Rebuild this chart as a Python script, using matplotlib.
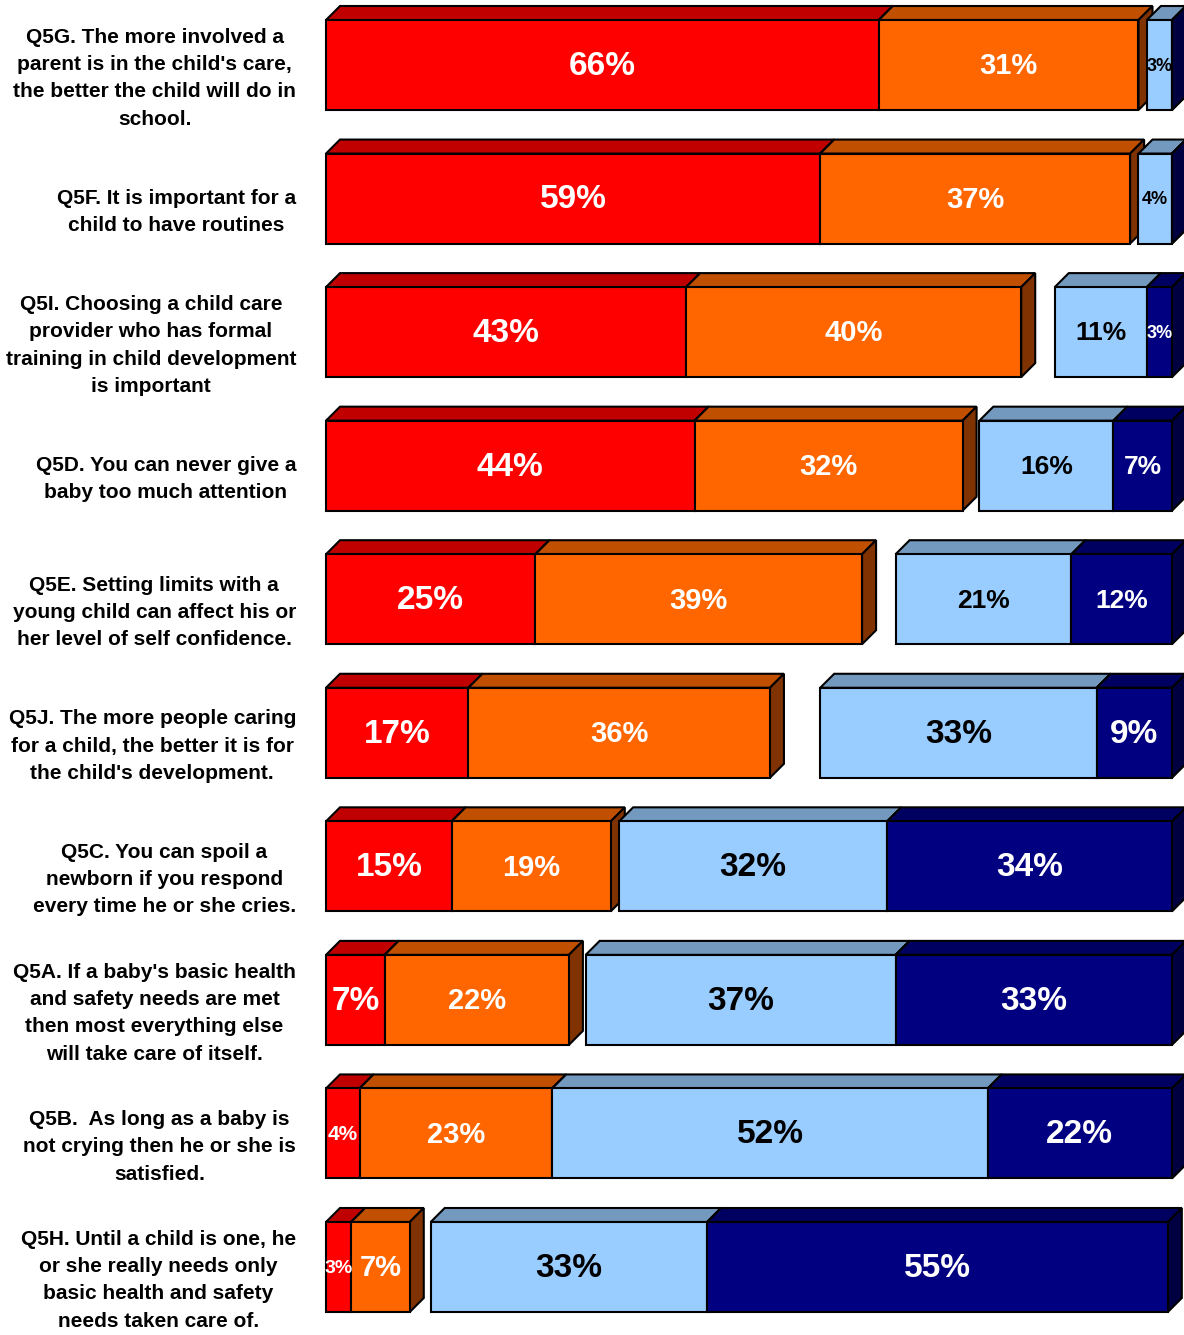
# 3D-look stacked bars for the Q5 agree/disagree items

import matplotlib.pyplot as plt
import matplotlib.transforms as mtransforms
from matplotlib.patches import Polygon

plt.rcParams['font.family'] = ['Liberation Sans', 'DejaVu Sans']

questions = [
    "Q5G. The more involved a\nparent is in the child's care,\nthe better the child will do in\nschool.",
    "Q5F. It is important for a\nchild to have routines",
    "Q5I. Choosing a child care\nprovider who has formal\ntraining in child development\nis important",
    "Q5D. You can never give a\nbaby too much attention",
    "Q5E. Setting limits with a\nyoung child can affect his or\nher level of self confidence.",
    "Q5J. The more people caring\nfor a child, the better it is for\nthe child's development.",
    "Q5C. You can spoil a\nnewborn if you respond\nevery time he or she cries.",
    "Q5A. If a baby's basic health\nand safety needs are met\nthen most everything else\nwill take care of itself.",
    "Q5B.  As long as a baby is\nnot crying then he or she is\nsatisfied.",
    "Q5H. Until a child is one, he\nor she really needs only\nbasic health and safety\nneeds taken care of.",
]

strongly_agree = [66, 59, 43, 44, 25, 17, 15, 7, 4, 3]
somewhat_agree = [31, 37, 40, 32, 39, 36, 19, 22, 23, 7]
dont_know = [1, 1, 4, 2, 4, 6, 1, 2, 0, 2.5]   # blank gap in the bar
somewhat_disagree = [3, 4, 11, 16, 21, 33, 32, 37, 52, 33]
strongly_disagree = [0, 0, 3, 7, 12, 9, 34, 33, 22, 55]

# font size of each value label (red, orange, light blue, navy)
label_sizes = [
    [24, 21, 13, 13],
    [24, 21, 13, 13],
    [24, 21, 19, 13],
    [24, 21, 19, 19],
    [24, 21, 19, 19],
    [24, 21, 24, 24],
    [24, 21, 24, 24],
    [24, 21, 24, 24],
    [15, 21, 24, 24],
    [14, 21, 24, 24],
]

# (front, top, side, text) colours
styles = [
    ('#FF0000', '#C00000', '#800000', 'white'),
    ('#FF6600', '#C04F00', '#803300', 'white'),
    None,
    ('#99CCFF', '#7399BF', '#4D6680', 'black'),
    ('#000080', '#000060', '#000040', 'white'),
]

W, H = 1184, 1335
fig = plt.figure(figsize=(W / 100, H / 100), dpi=100)
ax = fig.add_axes([326 / W, 0, 846 / W, 1])
pitch = 1202 / 9
ax.set_xlim(0, 101)
ax.set_ylim((H - 65) / pitch, -65 / pitch)
ax.axis('off')

dx = 14 / 846 * 101
dy = 14 / pitch
h = 90 / pitch

for i in range(len(questions)):
    vals = [strongly_agree[i], somewhat_agree[i], dont_know[i],
            somewhat_disagree[i], strongly_disagree[i]]
    yt, yb = i - h / 2, i + h / 2
    left = 0
    k = 0
    for v, st in zip(vals, styles):
        x0, x1 = left, left + v
        left = x1
        if st is None:
            continue
        front, top, side, tc = st
        ax.add_patch(Polygon([(x0, yt), (x0 + dx, yt - dy), (x1 + dx, yt - dy), (x1, yt)],
                             closed=True, fc=top, ec='black', lw=1.5, clip_on=False))
        ax.add_patch(Polygon([(x1, yt), (x1 + dx, yt - dy), (x1 + dx, yb - dy), (x1, yb)],
                             closed=True, fc=side, ec='black', lw=1.5, clip_on=False))
        ax.add_patch(Polygon([(x0, yt), (x1, yt), (x1, yb), (x0, yb)],
                             closed=True, fc=front, ec='black', lw=1.5, clip_on=False))
        if v > 0:
            ax.text((x0 + x1) / 2, i + 0.01, f"{v}%", ha='center', va='center',
                    color=tc, fontsize=label_sizes[i][k], fontweight='bold', zorder=5)
        k += 1

trans = mtransforms.blended_transform_factory(fig.transFigure, ax.transData)
for i, q in enumerate(questions):
    ax.text(296 / W, i + 0.1, q, transform=trans, ha='right', va='center',
            multialignment='center', fontsize=15, fontweight='bold',
            linespacing=1.55, color='black')

fig.savefig('out.png', dpi=100)
